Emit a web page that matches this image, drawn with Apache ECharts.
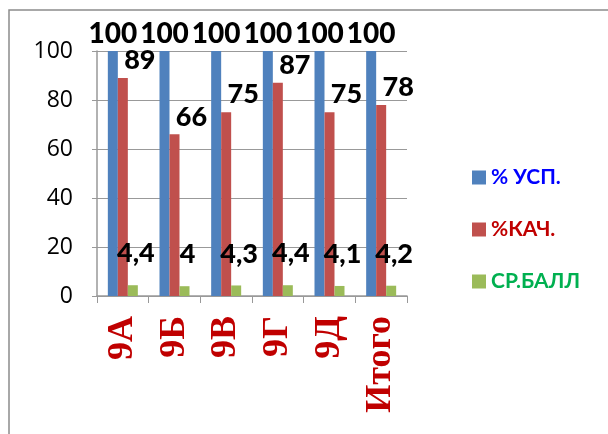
<!DOCTYPE html>
<html>
<head>
<meta charset="utf-8">
<script src="https://cdn.jsdelivr.net/npm/echarts@6/dist/echarts.min.js"></script>
<style>
  html, body { margin: 0; padding: 0; background: #fff; }
  #chart { width: 608px; height: 434px; }
</style>
</head>
<body>
<div id="chart"></div>
<script>
// данные диаграммы
var classes = ['9А', '9Б', '9В', '9Г', '9Д', 'Итого']
var uspValues = [100, 100, 100, 100, 100, 100]
var kachValues = [89, 66, 75, 87, 75, 78]
var ballValues = [4.4, 4, 4.3, 4.4, 4.1, 4.2]
var yTicks = [0, 20, 40, 60, 80, 100]

var chart = echarts.init(document.getElementById('chart'))

var labelFont = 'Lato'
function commaFmt(p) { return String(p.value).replace('.', ',') }

var option = {
  animation: false,
  backgroundColor: '#fff',
  graphic: [{
    type: 'rect',
    shape: { x: 9, y: 10, width: 700, height: 500 },
    style: { fill: 'none', stroke: '#8c8c8c', lineWidth: 1.5 }
  }],
  grid: { left: 97, right: 201, top: 51, bottom: 138 },
  legend: {
    orient: 'vertical',
    left: 467,
    top: 162,
    itemWidth: 14,
    itemHeight: 14,
    itemGap: 31,
    icon: 'rect',
    textStyle: { fontFamily: labelFont, fontWeight: 'bold', fontSize: 21 },
    data: [
      { name: '% УСП.', textStyle: { color: '#0000ff' } },
      { name: '%КАЧ.', textStyle: { color: '#c00000' } },
      { name: 'СР.БАЛЛ', textStyle: { color: '#00b050' } }
    ]
  },
  xAxis: {
    type: 'category',
    data: classes,
    axisLine: { lineStyle: { color: '#999', width: 1.5 } },
    axisTick: { show: true, length: 7, lineStyle: { color: '#999' } },
    axisLabel: {
      rotate: 90,
      margin: 20,
      color: '#c00000',
      fontFamily: 'Liberation Serif',
      fontWeight: 'bold',
      fontSize: 36
    }
  },
  yAxis: {
    type: 'value',
    min: yTicks[0],
    max: yTicks[yTicks.length - 1],
    interval: yTicks[1] - yTicks[0],
    axisLine: { show: true, lineStyle: { color: '#999', width: 1.5 } },
    axisTick: { show: true, length: 5, lineStyle: { color: '#999' } },
    axisLabel: { margin: 24, color: '#000', fontFamily: 'Open Sans', fontSize: 23 },
    splitLine: { lineStyle: { color: '#999', width: 1.2 } }
  },
  series: [
    {
      name: '% УСП.',
      type: 'bar',
      data: uspValues,
      barWidth: 10,
      barGap: '0%',
      itemStyle: { color: '#4f81bd' },
      label: {
        show: true, position: 'top', distance: 3,
        color: '#000', fontFamily: labelFont, fontWeight: 900, fontSize: 28
      }
    },
    {
      name: '%КАЧ.',
      type: 'bar',
      data: kachValues,
      barWidth: 10,
      itemStyle: { color: '#c0504d' },
      label: {
        show: true, position: 'top', distance: 4, offset: [17, 0],
        color: '#000', fontFamily: labelFont, fontWeight: 900, fontSize: 27
      }
    },
    {
      name: 'СР.БАЛЛ',
      type: 'bar',
      data: ballValues,
      barWidth: 10,
      itemStyle: { color: '#9bbb59' },
      label: {
        show: true, position: 'top', distance: 18, offset: [3, 0],
        formatter: commaFmt,
        color: '#000', fontFamily: labelFont, fontWeight: 900, fontSize: 27
      }
    }
  ]
}

chart.setOption(option)
</script>
</body>
</html>
